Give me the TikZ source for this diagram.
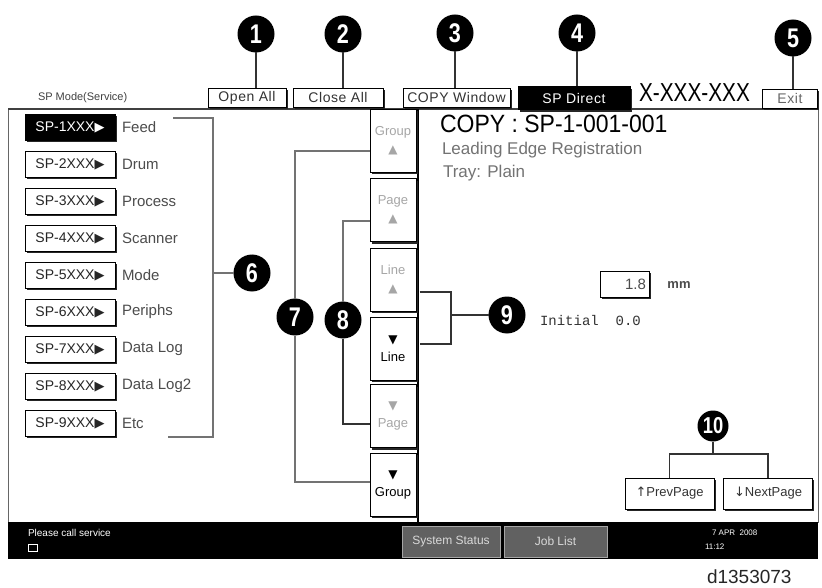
\documentclass[tikz,border=0pt]{standalone}
\usepackage{fontspec}
\setmainfont{Liberation Sans}
\newfontfamily\scr{Liberation Sans}
\newfontfamily\scrsp[LetterSpace=4]{Liberation Sans}
\newfontfamily\scrn[FakeStretch=0.8]{Liberation Sans}
\newfontfamily\scrm[FakeStretch=0.92]{Liberation Sans}
\newfontfamily\scrmono{Liberation Mono}
\newfontfamily\sym{DejaVu Sans}
\newcommand\myfs[1]{\fontsize{#1}{#1}\selectfont}
\begin{document}
\begin{tikzpicture}[x=1pt,y=-1pt,
  every node/.style={inner sep=0pt, outer sep=0pt},
  scrbtn/.style={draw=black, line width=0.9pt, fill=white, preaction={fill=black!85, transform canvas={shift={(1.8pt,-2.2pt)}}}},
  darkbtn/.style={scrbtn, fill=black, text=white},
  topbtn/.style={scrbtn, minimum height=19pt, font=\scrsp\myfs{14}, text=black!80},
  listbtn/.style={scrbtn, minimum width=90pt, minimum height=26pt, font=\scr\myfs{14}, text=black!85},
  colbtn/.style={scrbtn, minimum width=46pt, minimum height=63pt, align=center, font=\scr\myfs{13}},
  barbtn/.style={draw=black!35, line width=1pt, fill=black!62, minimum height=31pt, font=\scr\myfs{12}, text=black!15},
  callout/.style={circle, fill=black, text=white, minimum size=37pt, font=\scrn\bfseries\myfs{27}},
  lead/.style={draw=black!80, line width=1.1pt},
  leadg/.style={draw=black!55, line width=1.3pt},
  dis/.style={text=black!35},
]
\useasboundingbox (0,0) rectangle (822,588);
% frame
\fill[white] (8,109) rectangle (818,522);
\draw[black!60, line width=1pt] (8,109) rectangle (818,522);
\draw[black!75, line width=2pt] (8,109) -- (818,109);
\fill[black] (8,522) rectangle (818,559);
\draw[line width=2.5pt] (418,109) -- (418,522);

% top row
\node[anchor=west, font=\scr\myfs{11}, text=black!75] (mode) at (38,98) {SP Mode(Service)};
\node[topbtn, minimum width=78pt] (open) at (247,97.5) {Open All};
\node[topbtn, minimum width=90pt] (close) at (338,97.5) {Close All};
\node[topbtn, minimum width=107pt] (copyw) at (456.5,97.5) {COPY Window};
\node[darkbtn, minimum width=112pt, minimum height=23pt, font=\scrsp\myfs{14}] (direct) at (574,98) {SP Direct};
\node[anchor=west, font=\scrn\myfs{26}] (code) at (639,93) {X-XXX-XXX};
\node[topbtn, minimum width=55pt, text=black!60] (exit) at (790,98.5) {Exit};

\node[callout] (c1) at (256,34) {1};
\node[callout] (c2) at (343,34) {2};
\node[callout] (c3) at (455,33) {3};
\node[callout] (c4) at (577,33) {4};
\node[callout] (c5) at (793,38) {5};
\draw[lead] (c1.south) -- (c1.south |- open.north);
\draw[lead] (c2.south) -- (c2.south |- close.north);
\draw[lead] (c3.south) -- (c3.south |- copyw.north);
\draw[lead] (c4.south) -- (c4.south |- direct.north);
\draw[lead] (c5.south) -- (c5.south |- exit.north);

% list
\node[darkbtn, minimum width=90pt, minimum height=26pt, font=\scr\myfs{14}] (sp1) at (70,127) {SP-1XXX{\sym\myfs{13}▶}};
\foreach \i in {2,...,9} {
  \pgfmathsetmacro\yy{127+37*(\i-1)}
  \node[listbtn] (sp\i) at (70,\yy) {SP-\i XXX{\sym\myfs{13}▶}};
}
\foreach \i/\t in {1/Feed,2/Drum,3/Process,4/Scanner,5/Mode,6/Periphs,7/Data Log,8/Data Log2,9/Etc} {
  \pgfmathsetmacro\yy{127+37*(\i-1)}
  \node[anchor=west, font=\scr\myfs{15}, text=black!70] (lb\i) at (122,\yy) {\t};
}

% column buttons
\node[colbtn, dis] (gup) at (393,140.5) {Group\\[5pt]{\sym\myfs{12}▲}};
\node[colbtn, dis] (pup) at (393,210) {Page\\[5pt]{\sym\myfs{12}▲}};
\node[colbtn, dis] (lup) at (393,279.5) {Line\\[5pt]{\sym\myfs{12}▲}};
\node[colbtn] (ldn) at (393,348.5) {{\sym\myfs{12}▼}\\[5pt]Line};
\node[colbtn, dis] (pdn) at (393,416) {{\sym\myfs{12}▼}\\[5pt]Page};
\node[colbtn] (gdn) at (393,484.5) {{\sym\myfs{12}▼}\\[5pt]Group};

% callouts 6-9
\node[callout] (c6) at (252,273) {6};
\node[callout] (c7) at (295,317) {7};
\node[callout] (c8) at (343,320) {8};
\node[callout] (c9) at (507,315) {9};

\coordinate (b6a) at (173,118);
\coordinate (b6b) at (213,118);
\coordinate (b6c) at (213,437);
\coordinate (b6d) at (168,437);
\draw[leadg] (b6a) -- (b6b) -- (b6c) -- (b6d);
\draw[leadg] (c6.west) -- (c6.west -| b6b);

\coordinate (t7a) at (370,151);
\coordinate (t7b) at (370,482);
\draw[leadg] (t7a) -| (c7.north);
\draw[leadg] (c7.south) |- (t7b);
\coordinate (t8a) at (370,221);
\coordinate (t8b) at (370,424);
\draw[leadg] (t8a) -| (c8.north);
\draw[lead] (c8.south) |- (t8b);

\coordinate (t9a) at (419.5,292);
\coordinate (t9b) at (451,292);
\coordinate (t9c) at (451,344);
\coordinate (t9d) at (419.5,344);
\draw[lead] (t9a) -- (t9b) -- (t9c) -- (t9d);
\draw[lead] (c9.west) -- (c9.west -| t9b);

% right panel
\node[anchor=west, font=\scrm\myfs{25}] (title) at (440,124) {COPY : SP-1-001-001};
\node[anchor=west, font=\scr\myfs{17}, text=black!55] (desc) at (442,150) {Leading Edge Registration};
\node[anchor=west, font=\scr\myfs{17}, text=black!55] (tray) at (443,173) {Tray: Plain};
\node[scrbtn, minimum width=49pt, minimum height=26pt, text width=43pt, align=right, font=\scr\myfs{15}, text=black!70] (val) at (624.5,284) {1.8};
\node[font=\scr\bfseries\myfs{13}, text=black!70] (unit) at (679,285) {mm};
\node[anchor=west, font=\scrmono\myfs{14}, text=black!80] (init) at (540,320) {Initial\ \ 0.0};

\node[callout, minimum size=31pt, font=\scrn\bfseries\myfs{23}] (c10) at (713,426) {10};
\node[scrbtn, minimum width=89pt, minimum height=31pt, font=\scr\myfs{13}, text=black!80] (prev) at (669.5,493.5) {{\sym↑}PrevPage};
\node[scrbtn, minimum width=89pt, minimum height=31pt, font=\scr\myfs{13}, text=black!80] (next) at (768,493.5) {{\sym↓}NextPage};
\coordinate (b10) at (713,454);
\draw[lead] (c10.south) -- (b10);
\draw[lead] (prev.north) |- (b10) -| (next.north);

% bottom bar
\node[anchor=west, font=\scr\myfs{10}, text=white] (msg) at (28,533) {Please call service};
\node[draw=white, line width=0.8pt, minimum width=9pt, minimum height=7pt] (icon) at (33,548) {};
\node[barbtn, minimum width=98pt] (sys) at (451,541.5) {System Status};
\node[barbtn, minimum width=103pt] (job) at (555.5,541.5) {Job List};
\node[anchor=west, font=\scr\myfs{8}, text=white] (date) at (712,533) {7 APR\ \ 2008};
\node[anchor=west, font=\scr\myfs{8}, text=white] (time) at (705,547) {11:12};

\node[anchor=west, font=\scr\myfs{19}, text=black!85] (fig) at (707,577) {d1353073};
\end{tikzpicture}
\end{document}
